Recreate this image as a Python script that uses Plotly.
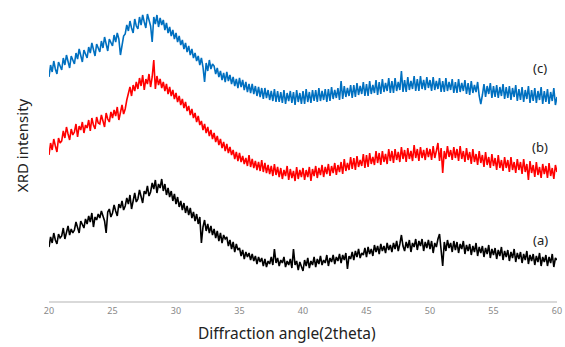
import plotly.graph_objects as go

# XRD scan grid (2theta from 20 to 60 deg, step 0.125 deg)
two_theta = [20 + 0.125 * i for i in range(321)]

# (a) black pattern (arbitrary intensity units, stacked offset); one row per degree
intensity_a = [
    54, 64, 58, 68, 61, 57, 67, 63,
    65, 73, 62, 70, 75, 66, 72, 68,
    71, 79, 74, 68, 80, 76, 73, 82,
    77, 85, 79, 88, 74, 84, 81, 87,
    83, 90, 85, 80, 68, 89, 92, 84,
    88, 96, 90, 85, 97, 93, 100, 91,
    95, 103, 97, 106, 92, 101, 108, 99,
    102, 111, 104, 98, 110, 107, 115, 105,
    109, 118, 112, 121, 108, 117, 113, 122,
    110, 117, 106, 113, 104, 110, 100, 107,
    97, 104, 94, 100, 91, 98, 88, 95,
    86, 93, 83, 89, 80, 87, 77, 84,
    58, 74, 81, 70, 77, 68, 75, 66,
    72, 63, 70, 60, 68, 58, 66, 62,
    64, 55, 61, 52, 59, 49, 57, 51,
    53, 45, 51, 42, 49, 44, 48, 41,
    47, 40, 45, 37, 44, 39, 43, 35,
    42, 34, 40, 37, 44, 36, 52, 38,
    43, 35, 41, 38, 44, 34, 40, 36,
    42, 33, 52, 36, 40, 31, 39, 35,
    30, 41, 35, 43, 33, 40, 36, 44,
    34, 42, 37, 45, 36, 41, 38, 46,
    35, 43, 39, 46, 37, 44, 40, 47,
    38, 46, 41, 48, 32, 45, 42, 49,
    41, 50, 44, 52, 43, 48, 46, 53,
    44, 54, 47, 52, 45, 56, 49, 55,
    47, 57, 50, 55, 48, 58, 51, 56,
    49, 58, 52, 60, 50, 57, 66, 55,
    50, 59, 53, 61, 49, 58, 54, 62,
    51, 60, 55, 62, 50, 59, 53, 61,
    52, 60, 48, 58, 54, 62, 67, 51,
    35, 59, 50, 61, 53, 58, 49, 60,
    51, 59, 48, 57, 52, 60, 47, 56,
    50, 57, 46, 55, 49, 58, 45, 54,
    48, 55, 44, 53, 47, 56, 43, 52,
    46, 53, 42, 51, 45, 54, 41, 50,
    44, 51, 40, 49, 43, 52, 39, 48,
    42, 49, 38, 47, 41, 50, 37, 46,
    40, 47, 36, 45, 39, 48, 35, 44,
    39, 46, 35, 44, 38, 47, 34, 43,
    41,
]

# (b) red pattern
intensity_b = [
    146, 158, 151, 162, 155, 149, 163, 158,
    160, 170, 163, 174, 167, 161, 172, 166,
    169, 177, 164, 175, 171, 179, 168, 176,
    173, 181, 170, 183, 176, 172, 184, 178,
    177, 186, 180, 174, 188, 182, 179, 189,
    183, 191, 185, 194, 181, 190, 196, 187,
    192, 201, 208, 214, 205, 216, 210, 219,
    212, 223, 215, 226, 211, 222, 217, 227,
    214, 224, 241, 212, 225, 216, 222, 213,
    219, 210, 217, 207, 214, 205, 211, 202,
    208, 199, 205, 196, 202, 193, 199, 190,
    195, 186, 192, 183, 188, 179, 185, 176,
    180, 171, 177, 168, 174, 165, 171, 162,
    168, 159, 165, 156, 162, 153, 159, 150,
    157, 148, 154, 146, 151, 142, 149, 140,
    148, 139, 145, 137, 143, 135, 146, 134,
    142, 133, 140, 131, 139, 130, 141, 129,
    138, 128, 136, 127, 135, 125, 137, 126,
    134, 124, 133, 122, 131, 125, 135, 121,
    132, 123, 130, 120, 134, 122, 131, 124,
    133, 121, 131, 124, 134, 120, 132, 125,
    135, 123, 133, 126, 136, 124, 134, 127,
    137, 125, 135, 128, 138, 126, 136, 129,
    139, 127, 142, 130, 138, 131, 144, 132,
    143, 131, 145, 134, 141, 135, 147, 133,
    146, 134, 148, 137, 144, 136, 150, 138,
    148, 136, 150, 139, 147, 137, 152, 140,
    150, 138, 152, 141, 149, 139, 154, 142,
    151, 139, 153, 142, 150, 140, 156, 143,
    152, 140, 154, 143, 151, 141, 153, 144,
    152, 141, 155, 143, 150, 158, 140, 153,
    128, 150, 142, 155, 144, 151, 141, 154,
    143, 152, 140, 155, 142, 150, 139, 153,
    141, 149, 137, 152, 139, 147, 136, 150,
    138, 146, 134, 149, 136, 144, 133, 147,
    135, 143, 131, 146, 133, 141, 130, 144,
    133, 141, 129, 144, 131, 139, 128, 142,
    131, 139, 127, 142, 129, 137, 121, 140,
    128, 136, 124, 139, 126, 134, 123, 137,
    127, 135, 123, 138, 125, 133, 122, 136,
    129,
]

# (c) blue pattern
intensity_c = [
    224, 236, 229, 240, 232, 227, 239, 234,
    231, 243, 236, 246, 239, 233, 245, 240,
    237, 248, 242, 252, 245, 239, 251, 247,
    243, 254, 248, 258, 251, 245, 257, 252,
    249, 260, 253, 264, 256, 250, 262, 258,
    255, 266, 259, 268, 262, 246, 258, 265,
    267, 276, 270, 280, 273, 268, 282, 275,
    272, 284, 276, 286, 279, 273, 287, 280,
    275, 259, 284, 277, 286, 274, 283, 276,
    281, 271, 278, 268, 274, 265, 271, 262,
    268, 259, 265, 256, 261, 252, 258, 249,
    255, 246, 252, 243, 248, 240, 245, 236,
    243, 234, 219, 238, 230, 241, 232, 237,
    235, 227, 233, 224, 230, 221, 228, 219,
    229, 220, 226, 217, 224, 215, 222, 213,
    223, 214, 221, 211, 219, 209, 217, 208,
    217, 207, 215, 205, 214, 204, 213, 202,
    213, 203, 211, 201, 210, 200, 212, 199,
    210, 199, 209, 198, 211, 197, 208, 200,
    210, 198, 209, 196, 211, 199, 208, 197,
    210, 197, 212, 199, 209, 198, 211, 200,
    211, 199, 213, 200, 210, 201, 212, 199,
    212, 200, 214, 202, 211, 203, 213, 201,
    220, 202, 215, 204, 213, 205, 216, 203,
    216, 204, 218, 206, 215, 207, 219, 205,
    217, 205, 220, 207, 216, 208, 221, 206,
    219, 207, 222, 209, 218, 210, 223, 208,
    220, 208, 223, 210, 219, 211, 230, 209,
    221, 209, 224, 211, 220, 212, 225, 210,
    222, 210, 225, 212, 221, 211, 224, 213,
    221, 210, 224, 211, 220, 212, 223, 209,
    220, 209, 223, 210, 219, 211, 222, 208,
    219, 208, 222, 209, 218, 210, 221, 207,
    218, 206, 220, 208, 216, 209, 219, 205,
    197, 206, 217, 204, 215, 207, 218, 203,
    215, 204, 216, 203, 214, 205, 217, 202,
    214, 203, 215, 201, 213, 204, 216, 200,
    212, 201, 214, 199, 211, 202, 215, 198,
    211, 200, 213, 198, 210, 201, 214, 197,
    210, 199, 212, 197, 209, 200, 213, 196,
    204,
]

series_names = ["(a)", "(b)", "(c)"]
series_colors = ["#000000", "#FF0000", "#0070C0"]
label_x = [58.7, 58.7, 58.7]
label_y = [61, 154, 233]

x_ticks = [20, 25, 30, 35, 40, 45, 50, 55, 60]

FONT = "Noto Sans, Open Sans, sans-serif"

fig = go.Figure()
for name, vals, col in zip(series_names, [intensity_a, intensity_b, intensity_c], series_colors):
    fig.add_trace(go.Scatter(x=two_theta, y=vals, mode="lines", name=name,
                             line=dict(color=col, width=1.6)))

for name, lx, ly in zip(series_names, label_x, label_y):
    fig.add_annotation(x=lx, y=ly, text=name, showarrow=False,
                       font=dict(family=FONT, size=13, color="#222222"))

# axis titles
fig.add_annotation(xref="paper", yref="paper", x=0.4685, y=-0.146,
                   text="Diffraction angle(2theta)", showarrow=False,
                   xanchor="center", yanchor="bottom", borderpad=0,
                   font=dict(family=FONT, size=15.5, color="#222222"))
fig.add_annotation(xref="paper", yref="paper", x=-0.053, y=0.518,
                   text="XRD intensity", showarrow=False, textangle=-90,
                   xanchor="center", yanchor="middle",
                   font=dict(family=FONT, size=15, color="#222222"))

fig.update_layout(
    width=565, height=347,
    margin=dict(l=49, r=8, t=0, b=46),
    plot_bgcolor="white", paper_bgcolor="white",
    showlegend=False,
    font=dict(family=FONT),
    xaxis=dict(
        range=[20, 60], tickvals=x_ticks, ticktext=[str(t) for t in x_ticks],
        showgrid=False, zeroline=False, showline=True, linecolor="#D9D9D9", linewidth=2,
        ticks="", tickfont=dict(size=9, color="#888888"), automargin=False,
        ticklabeloverflow="allow",
    ),
    yaxis=dict(
        range=[0, 301], showgrid=False, zeroline=False, showline=False,
        showticklabels=False, ticks="", automargin=False,
    ),
)

fig.write_html("out.html", config={"displayModeBar": False},
               post_script="document.body.style.margin='0';document.body.style.padding='0';")
